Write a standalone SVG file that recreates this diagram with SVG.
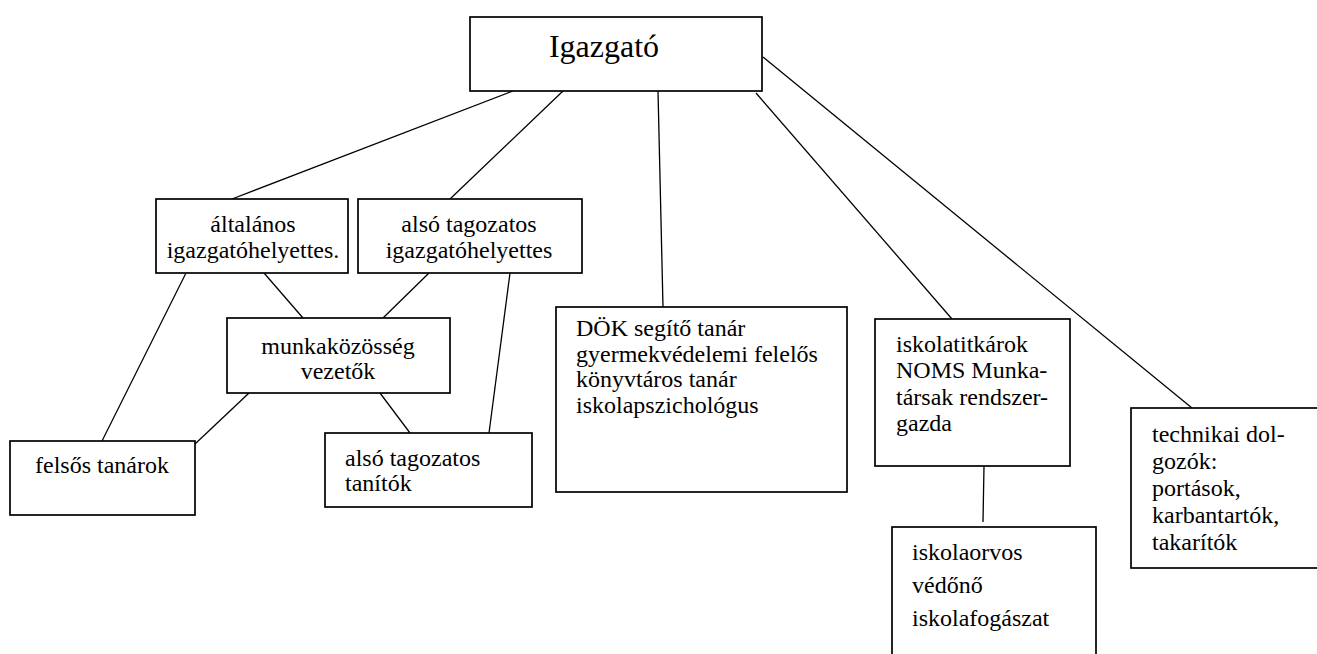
<svg xmlns="http://www.w3.org/2000/svg" width="1317" height="654" viewBox="0 0 1317 654">
<style>
.box{fill:#fff;stroke:#000;stroke-width:1.7}
.t{font-family:"Liberation Serif","Times New Roman",serif;font-size:24px;fill:#000}
.c{text-anchor:middle}
.ln{stroke:#000;stroke-width:1.3;fill:none}
</style>
<rect width="1317" height="654" fill="#fff"/>
<g id="connectors">
<line class="ln" x1="513" y1="91" x2="232" y2="199"/>
<line class="ln" x1="563" y1="91" x2="450" y2="199"/>
<line class="ln" x1="658" y1="91" x2="663" y2="307"/>
<line class="ln" x1="756" y1="93" x2="952" y2="319"/>
<line class="ln" x1="763" y1="57" x2="1192" y2="408"/>
<line class="ln" x1="186" y1="273" x2="102" y2="441"/>
<line class="ln" x1="264" y1="273" x2="303" y2="318"/>
<line class="ln" x1="429" y1="273" x2="383" y2="318"/>
<line class="ln" x1="510" y1="273" x2="489" y2="433"/>
<line class="ln" x1="249" y1="393" x2="195" y2="444"/>
<line class="ln" x1="380" y1="393" x2="410" y2="433"/>
<line class="ln" x1="984" y1="466" x2="983" y2="522"/>
</g>
<g id="igazgato">
<rect class="box" x="470" y="17" width="292" height="74"/>
<text class="t c" x="604" y="57" style="font-size:32px">Igazgató</text>
</g>
<g id="altalanos">
<rect class="box" x="156" y="199" width="192" height="74"/>
<text class="t c" x="253" y="232">általános</text>
<text class="t c" x="253" y="258">igazgatóhelyettes.</text>
</g>
<g id="also-ig">
<rect class="box" x="358" y="199" width="224" height="74"/>
<text class="t c" x="469" y="232">alsó tagozatos</text>
<text class="t c" x="469" y="258">igazgatóhelyettes</text>
</g>
<g id="munkakozosseg">
<rect class="box" x="227" y="318" width="223" height="75"/>
<text class="t c" x="338" y="354">munkaközösség</text>
<text class="t c" x="338" y="379">vezetők</text>
</g>
<g id="felsos">
<rect class="box" x="10" y="441" width="185" height="74"/>
<text class="t" x="35" y="473">felsős tanárok</text>
</g>
<g id="also-tanitok">
<rect class="box" x="325" y="433" width="207" height="74"/>
<text class="t" x="345" y="466">alsó tagozatos</text>
<text class="t" x="345" y="491">tanítók</text>
</g>
<g id="dok">
<rect class="box" x="556" y="307" width="291" height="185"/>
<text class="t" x="576" y="336">DÖK segítő tanár</text>
<text class="t" x="576" y="362">gyermekvédelemi felelős</text>
<text class="t" x="576" y="387">könyvtáros tanár</text>
<text class="t" x="576" y="413">iskolapszichológus</text>
</g>
<g id="iskolatitkarok">
<rect class="box" x="875" y="319" width="195" height="147"/>
<text class="t" x="896" y="352">iskolatitkárok</text>
<text class="t" x="896" y="378">NOMS Munka-</text>
<text class="t" x="896" y="405">társak rendszer-</text>
<text class="t" x="896" y="431">gazda</text>
</g>
<g id="iskolaorvos">
<rect class="box" x="892" y="527" width="204" height="150"/>
<text class="t" x="912" y="560">iskolaorvos</text>
<text class="t" x="912" y="593">védőnő</text>
<text class="t" x="912" y="626">iskolafogászat</text>
</g>
<g id="technikai">
<rect class="box" x="1131" y="408" width="195" height="160"/>
<text class="t" x="1152" y="442">technikai dol-</text>
<text class="t" x="1152" y="469">gozók:</text>
<text class="t" x="1152" y="496">portások,</text>
<text class="t" x="1152" y="523">karbantartók,</text>
<text class="t" x="1152" y="550">takarítók</text>
</g>
</svg>
